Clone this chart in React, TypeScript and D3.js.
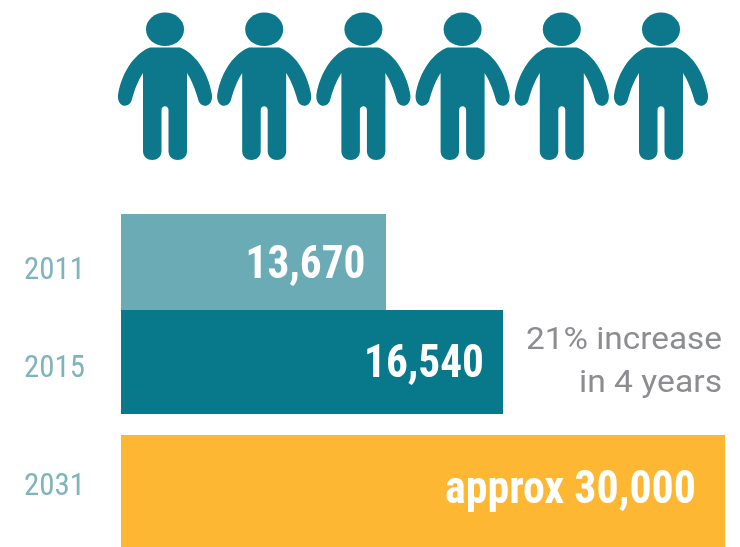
import React from "react";
import * as d3 from "d3";

const years = ["2011", "2015", "2031"];
const values = [13670, 16540, 30000];
const valueLabels = ["13,670", "16,540", "approx 30,000"];
const barColors = ["#6babb5", "#08788b", "#fdb733"];
const noteLines = ["21% increase", "in 4 years"];
const people = [0, 1, 2, 3, 4, 5];

const W = 740;
const H = 547;
// The source bars are not drawn to a single linear ratio, so the scale is piecewise.
const x = d3.scaleLinear().domain([0, 13670, 16540, 30000]).range([121, 386, 503, 725]);
const barTop = d3.scaleOrdinal<string, number>().domain(years).range([214, 310, 435]);
const barBottom = d3.scaleOrdinal<string, number>().domain(years).range([310, 414, 560]);
const labelY = d3.scaleOrdinal<string, number>().domain(years).range([279, 377, 495]);
const valueY = d3.scaleOrdinal<string, number>().domain(years).range([278, 377, 503]);
const personX = d3.scalePoint<number>().domain(people).range([165, 661]);

const personPath = d3.path();
personPath.moveTo(-15, 47.5);
personPath.lineTo(15, 47.5);
personPath.bezierCurveTo(28, 52, 43, 70, 47, 95);
personPath.bezierCurveTo(48, 108, 35, 109, 33, 99);
personPath.bezierCurveTo(30, 88, 26, 79, 22, 73);
personPath.lineTo(22, 151);
personPath.bezierCurveTo(22, 163, 3.5, 163, 3.5, 151);
personPath.lineTo(3.5, 110);
personPath.bezierCurveTo(3.5, 105, -3.5, 105, -3.5, 110);
personPath.lineTo(-3.5, 151);
personPath.bezierCurveTo(-3.5, 163, -22, 163, -22, 151);
personPath.lineTo(-22, 73);
personPath.bezierCurveTo(-26, 79, -30, 88, -33, 99);
personPath.bezierCurveTo(-35, 109, -48, 108, -47, 95);
personPath.bezierCurveTo(-43, 70, -28, 52, -15, 47.5);
personPath.closePath();

const narrow = "'Roboto Condensed', 'Liberation Sans Narrow', sans-serif";

export default function App() {
  return (
    <svg
      width={W}
      height={H}
      viewBox={`0 0 ${W} ${H}`}
      style={{ position: "absolute", left: 0, top: 0, background: "#fff" }}
    >
      <defs>
        <filter id="soft" x="-5%" y="-5%" width="110%" height="110%">
          <feGaussianBlur stdDeviation="0.6" />
        </filter>
      </defs>
      <g fill="#08788b" filter="url(#soft)">
        {people.map((p) => (
          <g key={p} transform={`translate(${personX(p)},0)`}>
            <ellipse cx={0} cy={29.3} rx={19} ry={16.8} />
            <path d={personPath.toString()} />
          </g>
        ))}
      </g>
      {years.map((y, i) => (
        <rect
          key={y}
          x={x(0)}
          y={barTop(y)}
          width={x(values[i]) - x(0)}
          height={Math.min(barBottom(y), H) - barTop(y)}
          fill={barColors[i]}
        />
      ))}
      <g filter="url(#soft)">
        {years.map((y) => (
          <text
            key={y}
            x={24}
            y={labelY(y)}
            fontFamily={narrow}
            fontSize={31}
            textLength={61}
            lengthAdjust="spacingAndGlyphs"
            fill="#7fb4bc"
          >
            {y}
          </text>
        ))}
        {years.map((y, i) => {
          const len = [120, 120, 251][i];
          const right = [365.5, 484, 696][i];
          return (
            <text
              key={y}
              x={right - len}
              y={valueY(y)}
              fontFamily={narrow}
              fontWeight={700}
              fontSize={46}
              textLength={len}
              lengthAdjust="spacingAndGlyphs"
              fill="#fff"
            >
              {valueLabels[i]}
            </text>
          );
        })}
        {noteLines.map((t, i) => {
          const len = [196, 143][i];
          return (
            <text
              key={t}
              x={722 - len}
              y={349 + i * 43}
              fontFamily="Roboto, sans-serif"
              fontWeight={400}
              fontSize={32}
              textLength={len}
              lengthAdjust="spacingAndGlyphs"
              fill="#8b8d90"
            >
              {t}
            </text>
          );
        })}
      </g>
    </svg>
  );
}
